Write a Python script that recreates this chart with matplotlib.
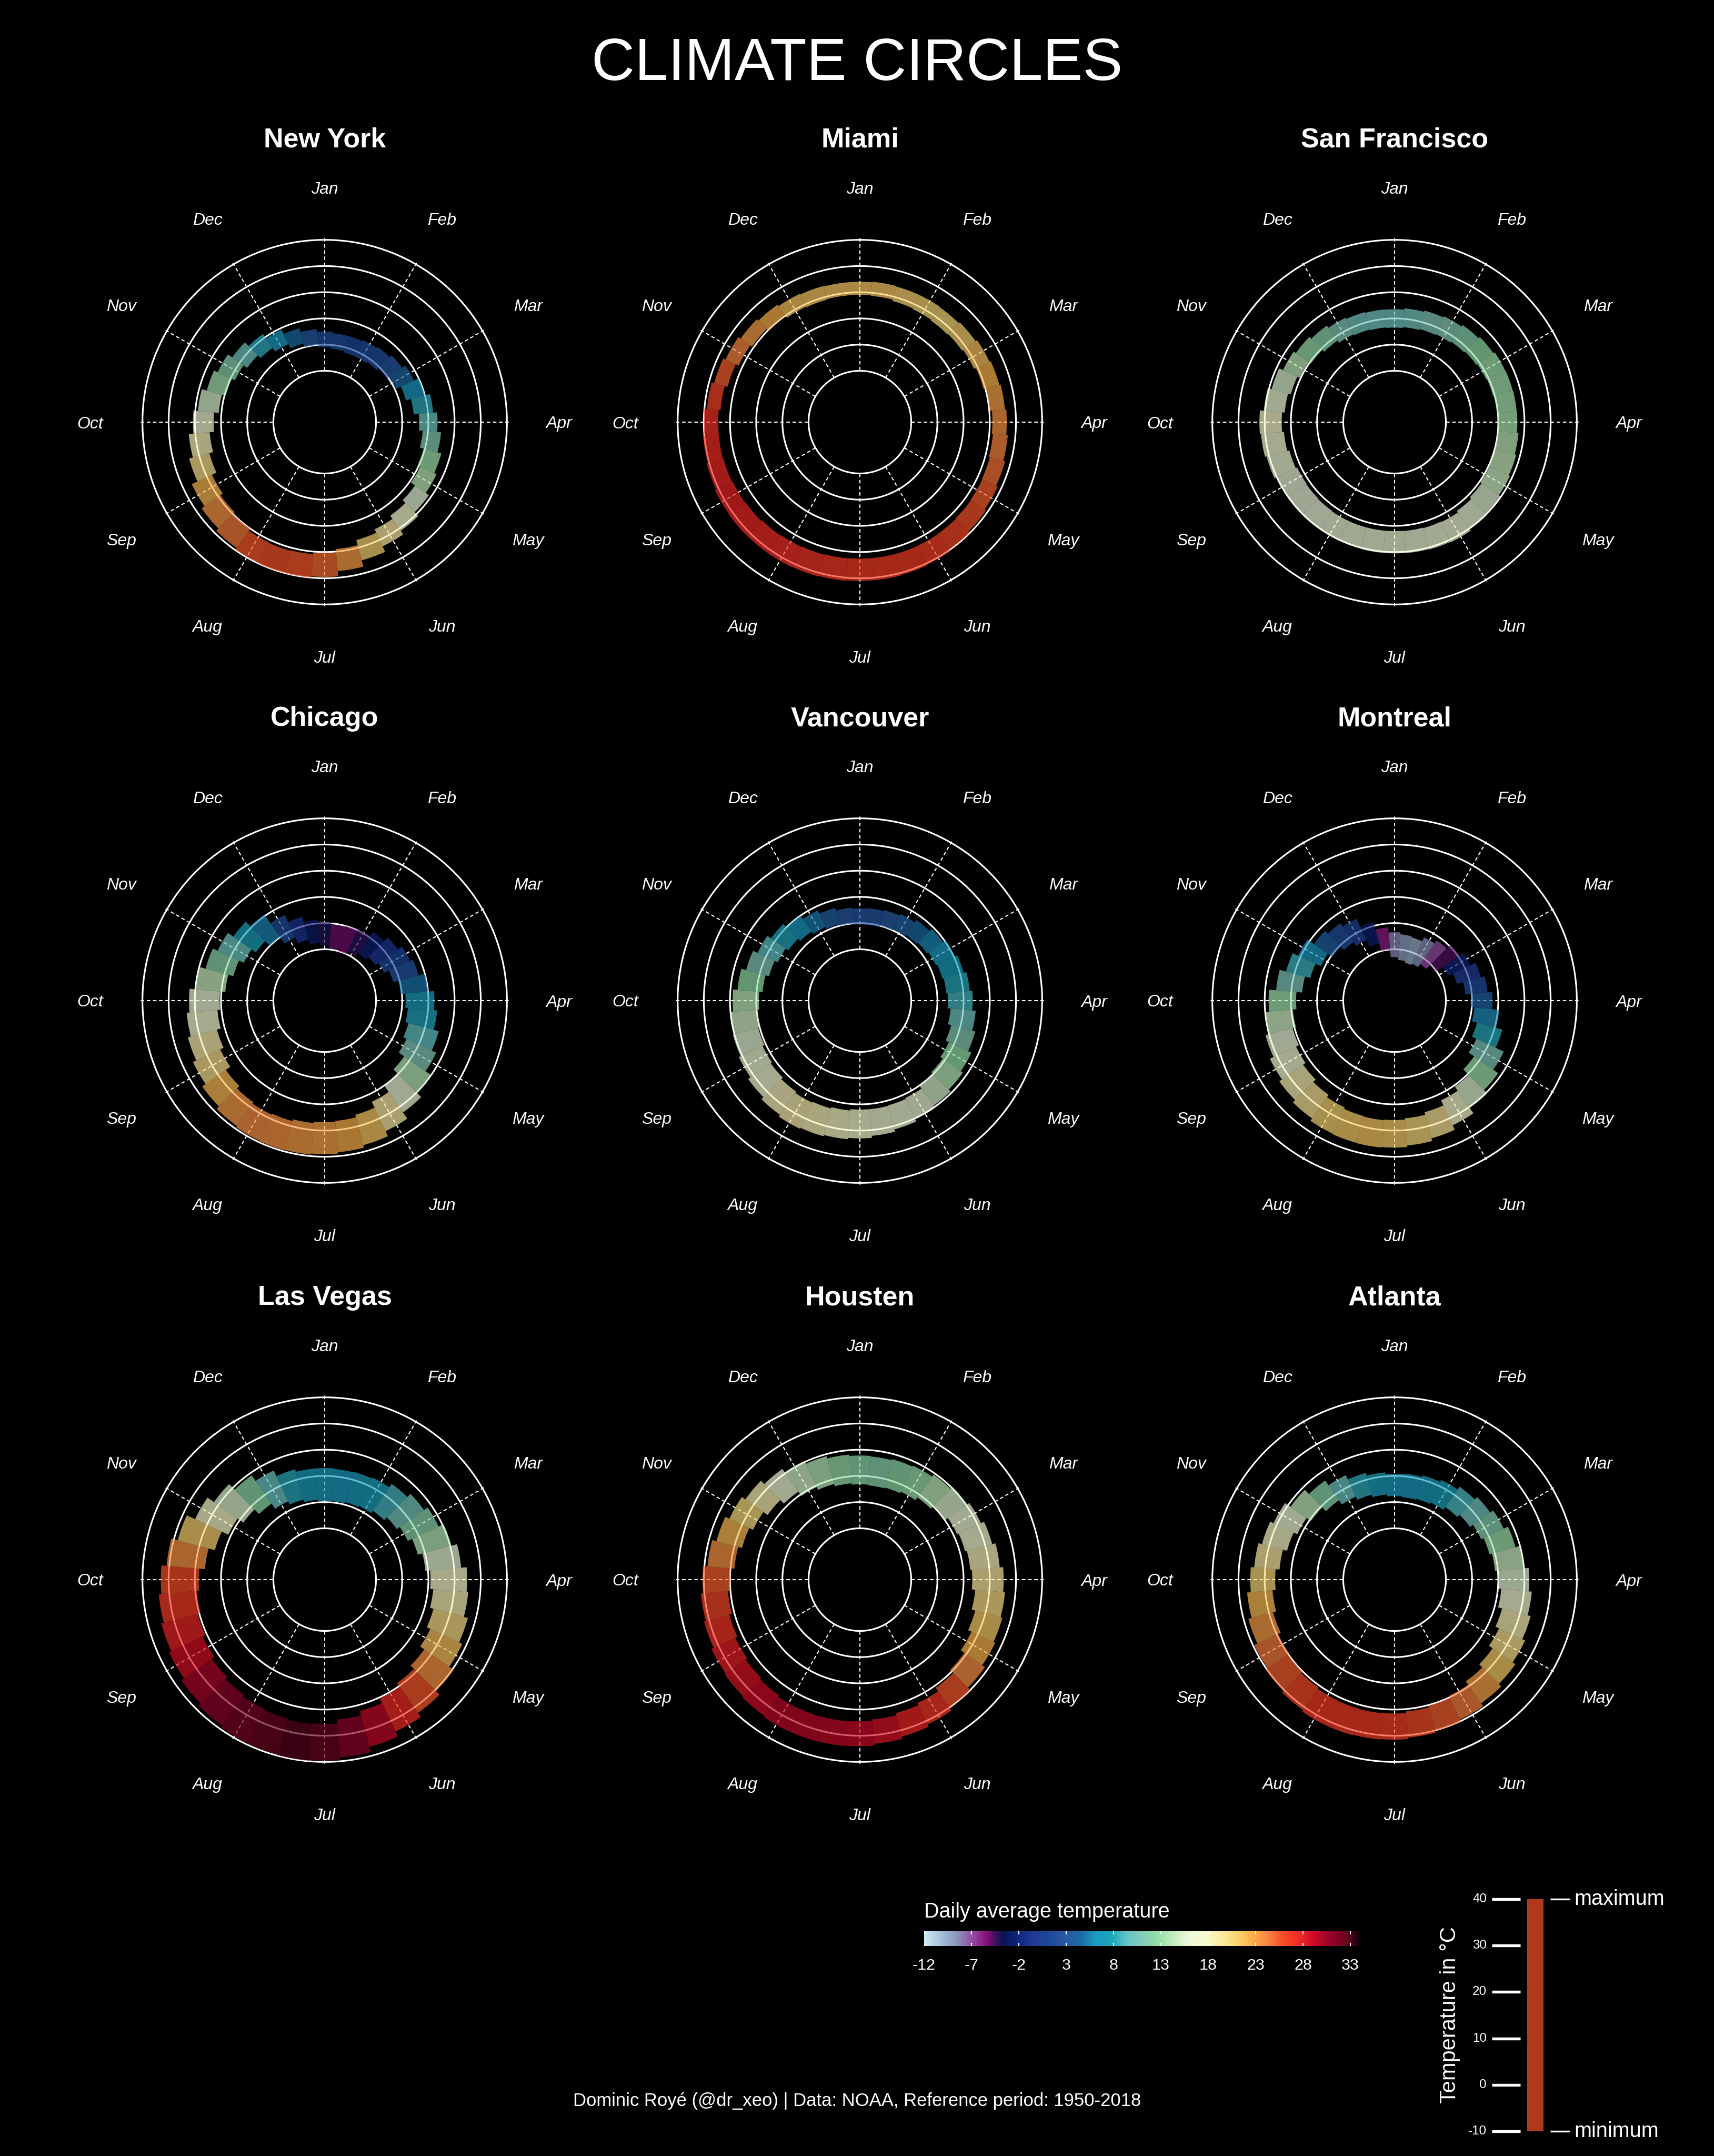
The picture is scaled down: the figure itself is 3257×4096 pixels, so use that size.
import numpy as np
import matplotlib.pyplot as plt
from matplotlib.colors import LinearSegmentedColormap, Normalize

plt.rcParams['font.family'] = ['Liberation Sans', 'DejaVu Sans']

W, H = 3257, 4096
DPI = 300

# ---------------- data (10-degree steps from Jan 1, clockwise)
step_angle = np.arange(36) * 10

months = ['Jan', 'Feb', 'Mar', 'Apr', 'May', 'Jun',
          'Jul', 'Aug', 'Sep', 'Oct', 'Nov', 'Dec']
month_angle = np.arange(12) * 30

ny_tmin = [-1, -1.5, -2, -2, -1.5, -0.5, 0.5, 2.5, 4.5, 6.5, 8, 9.5, 10.6, 12.5, 14, 15.5, 17, 19,
           20.4, 21, 21.2, 21, 20, 19, 17.9, 16, 14.5, 12.8, 11, 9.5, 8.2, 6.5, 5, 3.3, 1.5, 0]
ny_tmax = [5, 4.5, 4.5, 5, 5.5, 6.5, 8, 10, 12, 13.5, 15, 16.5, 17.5, 19, 21, 22.7, 25, 27.5,
           29.5, 30, 30, 29.8, 29, 27.8, 26.4, 24, 22.5, 20.7, 19, 17, 15.5, 13.5, 11.5, 9.4, 7.5, 6]

mia_tmin = [19, 18.8, 18.3, 18, 17.7, 18, 18.5, 19.3, 20.2, 21, 21.4, 21.8, 22, 22.2, 22.4, 22.5, 22.5, 22.5,
            22.5, 22.6, 22.8, 23, 23.3, 23.7, 24, 24.3, 24.5, 24.5, 23.8, 22.7, 21.5, 20.7, 19.9, 19, 18.8, 19]
mia_tmax = [24, 24.2, 24, 24, 23.8, 24.3, 25, 25.5, 26, 26.5, 27.1, 27.8, 28.5, 29.2, 29.9, 30.5, 30.8, 31,
            31, 31.2, 31.4, 31.5, 31.5, 31.6, 31.5, 31, 30.5, 30, 29, 28, 27, 26, 25.2, 24.5, 24.2, 24]

sf_tmin = [6.5, 6.8, 7.2, 7.5, 8, 8.5, 9, 9.3, 9.6, 9.8, 10, 10.2, 10.4, 11, 11.8, 12.5, 12.3, 12.1,
           12, 12, 12, 12, 11.8, 11.6, 11.4, 12, 12.8, 13.5, 12.5, 11.4, 10.4, 9.4, 8.4, 7.4, 7, 6.7]
sf_tmax = [13.5, 14, 14.5, 15, 15.7, 16.4, 17, 17.1, 17.2, 17.3, 17.9, 18.5, 19, 19.7, 20.4, 21, 20.8, 20.6,
           20.5, 20.5, 20.4, 20.4, 20.4, 20.4, 20.4, 21, 21.6, 22, 20.5, 19, 17.4, 16.4, 15.4, 14.4, 13.9, 13.6]

chi_tmin = [-8.5, -9.5, -10, -9, -7.5, -6, -4.6, -2.5, -0.5, 1.3, 2.3, 3.5, 4.9, 7.5, 10, 13, 15.5, 16.5,
            16.8, 17.3, 18, 18.4, 17.8, 16.5, 14.4, 13, 11.5, 10.5, 8.5, 6.5, 4.5, 2.5, 0, -3, -5.5, -7.5]
chi_tmax = [0.5, -0.5, 0, 0.5, 2.5, 4.5, 6.4, 7.5, 10, 12.3, 13.5, 15.5, 17.4, 20, 22.5, 25.4, 27.5, 28.5,
            29, 29.4, 29.5, 29.4, 28.8, 27.5, 25.9, 24.5, 23.3, 22.2, 20, 17.5, 15.5, 13, 10.5, 6.5, 3.5, 1.5]

van_tmin = [-0.5, -0.5, 0, 0.4, 1, 1.7, 2.4, 3, 3.5, 4, 5.2, 6.5, 7.9, 9, 10.3, 11.4, 11.8, 12,
            12, 12.5, 13, 13.4, 12.8, 12, 11.4, 10.6, 9.8, 9, 7.7, 6.3, 5, 3.8, 2.6, 1.4, 0.6, 0]
van_tmax = [5.6, 5.8, 6.2, 6.9, 8, 9.2, 10.4, 11.4, 12.5, 13.5, 14.8, 16, 17.4, 18.4, 19.4, 20.4, 21.3, 22.2,
            23, 23.5, 24, 24.4, 23.6, 22.5, 21.4, 20.6, 19.8, 19, 17.3, 15.4, 13.5, 11.8, 10, 8.4, 7, 6]

mtl_tmin = [-13, -14, -14.6, -14, -12.5, -10, -7.1, -5, -2.5, -0.2, 1, 3, 4.9, 7.5, 10.5, 12.4, 14.5, 15.5,
            16, 16.2, 16, 15.4, 14.3, 13, 11.9, 10.7, 9.4, 8, 5.8, 3.7, 1.5, -0.5, -2.3, -4.1, -7, -10]
mtl_tmax = [-3.5, -4.2, -4.6, -3, -1.5, 0.5, 2.4, 4.5, 6, 7.8, 10.5, 13, 16.4, 18.7, 20.4, 22.9, 24.8, 25.9,
            26.5, 26.7, 26.6, 26.4, 25.3, 24.1, 22.9, 21.4, 20, 18.5, 15.8, 13.3, 11, 8, 6.5, 4.9, 1.5, -1.5]

lv_tmin = [0.5, 0.5, 1, 1.4, 2.5, 4, 5.4, 7.2, 9, 10.8, 12, 13.4, 14.9, 16.8, 18.6, 20.4, 22.3, 24,
           25.5, 25.7, 25.2, 24.8, 24, 23, 21.8, 20.6, 19.5, 18.5, 16.3, 13.8, 11, 8.3, 5.8, 3.4, 2, 1]
lv_tmax = [13, 12.8, 13, 13.4, 15, 16.7, 18.4, 20.5, 22.7, 24.8, 25.4, 27, 28.4, 30.5, 32.5, 34.4, 36.5, 38.5,
           39.5, 39.8, 39.6, 39.4, 38.5, 37.3, 36, 35, 34, 33, 31, 28.5, 25, 22, 19, 16.4, 14, 13]

hou_tmin = [6.8, 6.5, 6.8, 7.4, 8.7, 10, 11.4, 12, 12.7, 13.3, 14.6, 16, 17.4, 19.1, 20.8, 22.4, 23.2, 24,
            24.5, 24.7, 24.8, 24.9, 24.3, 23.6, 22.9, 22, 21, 20, 18.5, 17, 15.4, 13.4, 11.4, 9.4, 8.2, 7.3]
hou_tmax = [17.8, 17.6, 18, 18.4, 19.4, 20.4, 21.4, 22.7, 24, 25.3, 26, 26.7, 27.4, 28.7, 30, 31.4, 32.4, 33.3,
            34, 34.2, 34.3, 34.4, 33.9, 33.4, 32.9, 32, 31.3, 30.5, 28.8, 27.1, 25.4, 23.8, 22, 20.4, 19.2, 18.3]

atl_tmin = [2.3, 2, 2.3, 2.9, 4.2, 5.5, 6.9, 7.9, 8.9, 9.8, 11.3, 12.9, 14.4, 16.1, 17.8, 19.4, 20.2, 20.9,
            21.5, 21.6, 21.5, 21.4, 20.8, 20.1, 19.5, 18.4, 17.2, 16, 14.5, 12.9, 11.4, 9.4, 7.4, 5.4, 4, 3]
atl_tmax = [10.8, 11, 11.6, 12.4, 13.7, 15, 16.4, 18.2, 20, 21.8, 23, 24.2, 25.4, 26.7, 28, 29.4, 30.2, 30.9,
            31.5, 31.7, 31.9, 31.9, 31.2, 30.4, 29.5, 28.2, 26.9, 25.5, 24.2, 22.8, 21.4, 18.9, 16.6, 14.4, 12.6, 11.5]

cities = [('New York', ny_tmin, ny_tmax), ('Miami', mia_tmin, mia_tmax),
          ('San Francisco', sf_tmin, sf_tmax), ('Chicago', chi_tmin, chi_tmax),
          ('Vancouver', van_tmin, van_tmax), ('Montreal', mtl_tmin, mtl_tmax),
          ('Las Vegas', lv_tmin, lv_tmax), ('Housten', hou_tmin, hou_tmax),
          ('Atlanta', atl_tmin, atl_tmax)]

ring_levels = [-10, 0, 10, 20, 30, 40]
cbar_ticks = [-12, -7, -2, 3, 8, 13, 18, 23, 28, 33]
scale_ticks = [-10, 0, 10, 20, 30, 40]

palette = ["#cbebf6", "#a7bfd9", "#8c99bc", "#974ea8", "#830f74", "#0b144f", "#0e2680",
           "#223b97", "#1c499a", "#2859a5", "#1b6aa3", "#1d9bc4", "#1ca4bc", "#64c6c7",
           "#86cabb", "#91e0a7", "#c7eebf", "#ebf8da", "#f6fdd1", "#fdeca7", "#f8da77",
           "#fcb34d", "#fc8c44", "#f85127", "#f52f26", "#d10b26", "#9c042a", "#760324",
           "#18000c"]

# ---------------- layout
cmap = LinearSegmentedColormap.from_list('temp', palette)
norm = Normalize(-12, 34)

r_origin = -29.6
r_max = 41.5
px_per_deg = 4.976
R = (r_max - r_origin) * px_per_deg

centers_x = [617, 1634, 2650]
centers_y = [802, 1901, 3001]

fig = plt.figure(figsize=(W / DPI, H / DPI), dpi=DPI, facecolor='black')

fig.text(0.5, 1 - 152 / H, 'CLIMATE CIRCLES', color='white', fontsize=27.3,
         ha='center', va='baseline')

circ = np.linspace(0, 2 * np.pi, 721)
for k, (name, tmin, tmax) in enumerate(cities):
    cx = centers_x[k % 3]
    cy = centers_y[k // 3]
    ax = fig.add_axes([(cx - R) / W, (H - cy - R) / H, 2 * R / W, 2 * R / H],
                      projection='polar')
    ax.set_facecolor('black')
    ax.set_theta_zero_location('N')
    ax.set_theta_direction(-1)
    ax.axis('off')

    for lev in ring_levels:
        ax.plot(circ, np.full_like(circ, lev), color='white', lw=0.75, zorder=1)
    for a in month_angle:
        th = np.deg2rad(a)
        ax.plot([th, th], [-10, r_max], color='white', lw=0.5,
                ls=(0, (3.2, 2.4)), zorder=1)

    tmin = np.array(tmin, dtype=float)
    tmax = np.array(tmax, dtype=float)
    avg = (tmin + tmax) / 2
    ax.bar(np.deg2rad(step_angle), tmax - tmin, bottom=tmin, width=np.deg2rad(10),
           color=cmap(norm(avg)), alpha=0.68, linewidth=0, zorder=2)

    for m, a in zip(months, month_angle):
        ax.text(np.deg2rad(a), 60, m, color='white', fontsize=7.7,
                style='italic', ha='center', va='center_baseline', clip_on=False)

    ax.set_ylim(r_origin, r_max)

    fig.text(cx / W, 1 - (cy - 522) / H, name, color='white', fontsize=12.5,
             fontweight='bold', ha='center', va='baseline')

# ---------------- colour legend
cax = fig.add_axes([1756 / W, (H - 3697) / H, 828 / W, 28 / H])
grad = np.linspace(-12, 34, 600)[None, :]
cax.imshow(grad, cmap=cmap, norm=norm, extent=[-12, 34, 0, 1], aspect='auto')
cax.set_xlim(-12, 34)
cax.set_ylim(0, 1)
cax.axis('off')
cax.vlines(cbar_ticks, 0, 0.22, color='white', lw=0.5)
cax.vlines(cbar_ticks, 0.78, 1, color='white', lw=0.5)
for t in cbar_ticks:
    cax.text(t, -1.6, str(t), color='white', fontsize=7.3, ha='center',
             va='baseline', clip_on=False)
cax.text(-12, 1.93, 'Daily average temperature', color='white', fontsize=9.5,
         ha='left', va='baseline', clip_on=False)

# ---------------- temperature scale legend
lax = fig.add_axes([2700 / W, (H - 4049) / H, 557 / W, 441 / H])
lax.set_xlim(2700, 3257)
lax.set_ylim(-10, 40)
lax.axis('off')
lax.hlines(scale_ticks, 2835, 2889, color='white', lw=1.3, clip_on=False)
for t in scale_ticks:
    lax.text(2825, t, str(t), color='white', fontsize=5.8, ha='right', va='center')
lax.bar(2917.5, scale_ticks[-1] - scale_ticks[0], bottom=scale_ticks[0], width=31,
        color='#b0381f', clip_on=False)
lax.hlines([scale_ticks[-1], scale_ticks[0]], 2946, 2983, color='white', lw=0.8,
           clip_on=False)
lax.text(2991, scale_ticks[-1], 'maximum', color='white', fontsize=9.5,
         ha='left', va='center')
lax.text(2991, scale_ticks[0], 'minimum', color='white', fontsize=9.5,
         ha='left', va='center')
lax.text(2755, 15, 'Temperature in °C', color='white', fontsize=10, rotation=90,
         ha='center', va='center')

fig.text(1629 / W, 1 - 3991 / H,
         'Dominic Royé (@dr_xeo) | Data: NOAA, Reference period: 1950-2018',
         color='white', fontsize=8.3, ha='center', va='center')

fig.savefig('out.png', dpi=DPI, facecolor='black')
